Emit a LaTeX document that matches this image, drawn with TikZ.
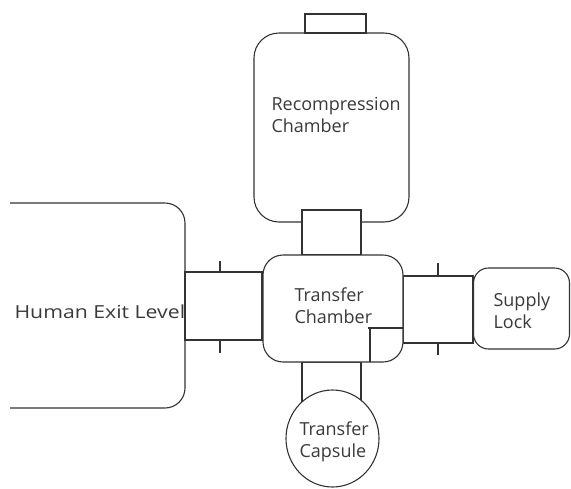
\documentclass[tikz,border=0pt]{standalone}
\usepackage{fontspec}
\setmainfont{Open Sans}
\usetikzlibrary{shapes.geometric}
\definecolor{ln}{HTML}{333333}
\definecolor{tx}{HTML}{3a3a3a}
\begin{document}
\begin{tikzpicture}[x=1pt,y=-1pt,line width=1.1pt,
  chamber/.style={draw=ln,fill=white,rounded corners=#1,inner sep=0pt},
  tube/.style={draw=ln,fill=white},
  tick/.style={draw=ln},
  lbl/.style={anchor=base west,inner sep=0pt,text=tx,font=\fontsize{18}{22}\selectfont,align=left}]
\useasboundingbox (0,0) rectangle (571,488);
% recompression chamber
\node[chamber=25pt,minimum width=155pt,minimum height=189pt] (recomp) at (331.5,127.5) {};
\node[draw=ln,fill=white,inner sep=0pt,minimum width=61pt,minimum height=19pt] (stub) at (335.5,23.5) {};
\draw[tube] (302,210) rectangle (361,255);
% tubes behind the transfer chamber
\draw[tube] (185,272) rectangle (262,340);
\draw[tube] (403,276) rectangle (473,343);
\draw[tube] (302,362) rectangle (361,405);
% transfer chamber
\node[chamber=20pt,minimum width=140pt,minimum height=107pt] (transfer) at (333,308.5) {};
% human exit level (open on the left)
\draw[draw=ln,rounded corners=20pt] (10,203) -- (185,203) -- (185,408) -- (10,408);
% supply lock
\node[chamber=15pt,minimum width=96pt,minimum height=81pt] (supply) at (521.5,308.5) {};
% transfer capsule
\node[draw=ln,fill=white,ellipse,inner sep=0pt,minimum width=93pt,minimum height=97pt] (capsule) at (332.5,438.5) {};
% mark inside the transfer chamber
\draw[draw=ln] (368,328) -- (transfer.east |- 0,328);
\draw[draw=ln] (370,328) -- (370,362);
% ticks on the side tubes
\draw[tick] (220,261) -- (220,272) (220,340) -- (220,353);
\draw[tick] (438,263) -- (438,276) (438,343) -- (438,355);
% labels (anchor is the baseline of the last line)
\node[lbl] (lrecomp) at (271,132) {Recompression\\Chamber};
\node[lbl] (ltransfer) at (294,323) {Transfer\\Chamber};
\node[lbl] (lsupply) at (493,328) {Supply\\Lock};
\node[lbl] (lcapsule) at (299,457) {Transfer\\Capsule};
\node[lbl] (lhel) at (14,318) {\scalebox{1.18}[1]{Human Exit Level}};
\end{tikzpicture}
\end{document}
